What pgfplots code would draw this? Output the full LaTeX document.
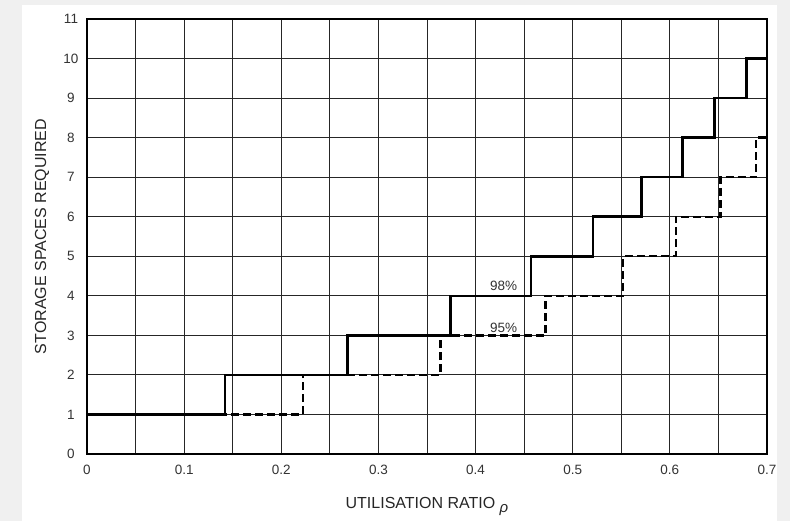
\documentclass[border=0pt]{standalone}
\usepackage{fontspec}
\setmainfont{Liberation Sans}
\usepackage{pgfplots}
\pgfplotsset{compat=1.18}

\begin{document}
\begin{tikzpicture}
% page background and white sheet
\fill[black!6] (0pt,0pt) rectangle (790pt,521pt);
\fill[white] (22pt,0pt) rectangle (777pt,516pt);
\begin{axis}[
    at={(87pt,67pt)}, anchor=south west,
    width=680pt, height=435pt, scale only axis,
    xmin=0, xmax=0.7, ymin=0, ymax=11,
    xtick={0,0.1,0.2,0.3,0.4,0.5,0.6,0.7},
    xticklabels={0,0.1,0.2,0.3,0.4,0.5,0.6,0.7},
    minor xtick={0.05,0.15,0.25,0.35,0.45,0.55,0.65},
    ytick={0,1,...,11},
    grid=both,
    major grid style={black!85, line width=0.9pt},
    minor grid style={black!85, line width=0.9pt},
    major tick length=0pt, minor tick length=0pt,
    axis line style={line width=2pt},
    /pgf/number format/assume math mode=true,
    ticklabel style={font=\fontsize{13.5}{15}\selectfont, text=black!80},
    xticklabel style={anchor=center, yshift=-16pt},
    yticklabel style={anchor=center, xshift=-16pt},
    xlabel={UTILISATION RATIO \raisebox{-4pt}{\fontsize{15}{15}\selectfont\textit{ρ}}},
    ylabel={STORAGE SPACES REQUIRED},
    label style={font=\fontsize{16}{18}\selectfont, text=black!85},
    xlabel style={at={(axis description cs:0.5,-0.12)}, anchor=center},
    ylabel style={at={(axis description cs:-0.066,0.5)}, anchor=center, rotate=0},
]
% 95% curve (dashed)
\addplot[const plot, black, line width=2.3pt, dash pattern=on 8pt off 4pt] coordinates {
(0,1) (0.222,2) (0.364,3) (0.472,4) (0.552,5) (0.606,6) (0.652,7) (0.689,8) (0.7,8)
};
% 98% curve (solid)
\addplot[const plot, black, line width=2.6pt] coordinates {
(0,1) (0.142,2) (0.268,3) (0.374,4) (0.457,5) (0.521,6) (0.571,7) (0.613,8) (0.646,9) (0.679,10) (0.7,10)
};
\node[font=\fontsize{13.5}{15}\selectfont, text=black!80] at (axis cs:0.429,4.24) {98\%};
\node[font=\fontsize{13.5}{15}\selectfont, text=black!80] at (axis cs:0.429,3.2) {95\%};
\end{axis}
\end{tikzpicture}
\end{document}
